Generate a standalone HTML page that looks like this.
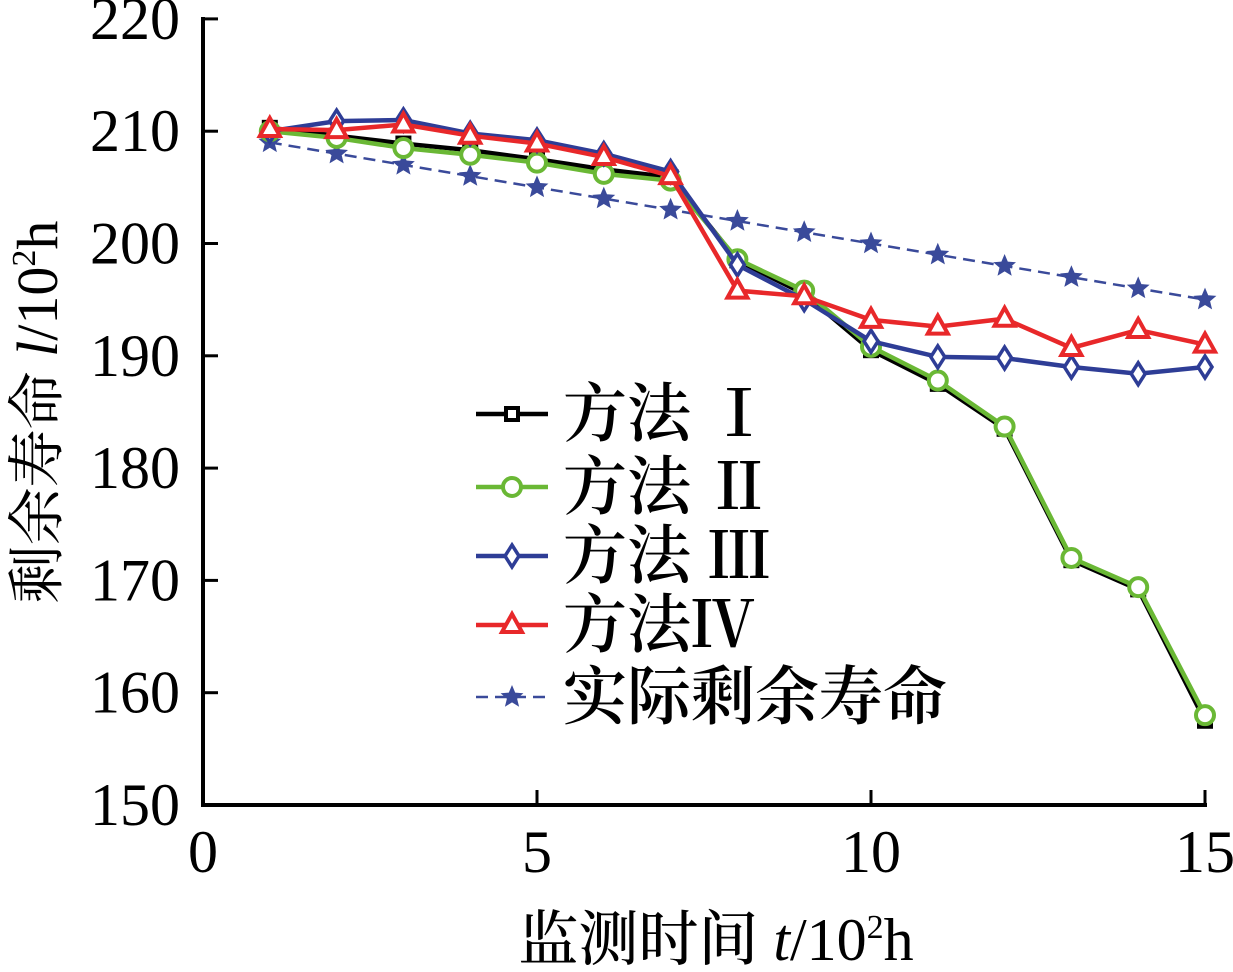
<!DOCTYPE html>
<html><head><meta charset="utf-8"><style>
html,body{margin:0;padding:0;background:#fff;}
svg text{font-family:"Liberation Serif","Noto Serif CJK SC",serif;}
</style></head><body>
<svg id="s" width="1233" height="967" viewBox="0 0 1233 967" xmlns="http://www.w3.org/2000/svg">
<g id="g"></g>
</svg>
<script>
const X=v=>203+v*66.8, Y=v=>805-(v-150)*11.23;
const g=document.getElementById('g');let h='';
h+=`<line x1="203" y1="17" x2="203" y2="805" stroke="#000" stroke-width="4"/>`;
h+=`<line x1="201" y1="805" x2="1207" y2="805" stroke="#000" stroke-width="4"/>`;
for(let v=150;v<=220;v+=10){const y=Y(v);if(v>150)h+=`<line x1="203" y1="${y}" x2="218" y2="${y}" stroke="#000" stroke-width="3"/>`;
h+=`<text x="180" y="${y+20}" font-size="60" text-anchor="end">${v}</text>`;}
for(let v=0;v<=15;v+=5){const x=X(v);if(v>0)h+=`<line x1="${x}" y1="805" x2="${x}" y2="790" stroke="#000" stroke-width="3"/>`;
h+=`<text x="${x}" y="872" font-size="60" text-anchor="middle">${v}</text>`;}
h+=`<text x="716" y="960" font-size="60" text-anchor="middle" font-weight="bold" style="font-weight:500">监测时间 <tspan font-style="italic">t</tspan>/10<tspan font-size="34" dy="-22">2</tspan><tspan dy="22">h</tspan></text>`;
h+=`<text transform="translate(57,412) rotate(-90)" font-size="58" text-anchor="middle">剩余寿命 <tspan font-style="italic">l</tspan>/10<tspan font-size="34" dy="-22">2</tspan><tspan dy="22">h</tspan></text>`;
const D={
k:[210.3,209.6,208.9,208.3,207.5,206.6,205.9,198.5,195.5,190.5,187.5,183.5,171.8,169.2,157.5],
gr:[210.0,209.4,208.5,207.9,207.2,206.2,205.6,198.6,195.8,190.8,187.8,183.7,172.0,169.4,158.0],
b:[210,210.9,211.0,209.8,209.2,208.0,206.4,198.1,195.0,191.3,189.9,189.8,189.0,188.4,189.0],
r:[210.2,210.1,210.6,209.6,208.9,207.7,206.0,195.8,195.3,193.2,192.6,193.3,190.7,192.3,191.0],
a:[209,208,207,206,205,204,203,202,201,200,199,198,197,196,195]};
function star(x,y,r,c){let p=[];for(let i=0;i<10;i++){const rr=i%2?r*0.45:r,an=-Math.PI/2+i*Math.PI/5;p.push((x+rr*Math.cos(an)).toFixed(1)+','+(y+rr*Math.sin(an)).toFixed(1));}return `<polygon points="${p.join(' ')}" fill="${c}"/>`;}
function mk(t,x,y){
if(t=='k')return `<rect x="${x-6}" y="${y-6}" width="12" height="12" fill="#fff" stroke="#000" stroke-width="4"/>`;
if(t=='gr')return `<circle cx="${x}" cy="${y}" r="9" fill="#fff" stroke="#6ab835" stroke-width="4"/>`;
if(t=='b')return `<polygon points="${x},${y-11} ${x+7},${y} ${x},${y+11} ${x-7},${y}" fill="#fff" stroke="#2e3d96" stroke-width="3.5"/>`;
if(t=='r')return `<polygon points="${x},${y-11} ${x+10},${y+7} ${x-10},${y+7}" fill="#fff" stroke="#e8282a" stroke-width="4"/>`;
return star(x,y,12,'#3a4a9a');}
const col={k:'#000',gr:'#6ab835',b:'#2e3d96',r:'#e8282a',a:'#3a4a9a'};
for(const t of ['a','k','gr','b','r']){const pts=D[t].map((v,i)=>X(i+1)+','+Y(v)).join(' ');
h+=`<polyline points="${pts}" fill="none" stroke="${col[t]}" stroke-width="${t=='a'?2.5:4.5}" ${t=='a'?'stroke-dasharray="12,7"':''}/>`;
D[t].forEach((v,i)=>h+=mk(t,X(i+1),Y(v)));}
const L=[['k','方法 Ⅰ',414],['gr','方法 Ⅱ',487],['b','方法 Ⅲ',556],['r','方法Ⅳ',625],['a','实际剩余寿命',697]];
for(const [t,s,y] of L){h+=`<line x1="476" y1="${y}" x2="548" y2="${y}" stroke="${col[t]}" stroke-width="${t=='a'?2.5:4.5}" ${t=='a'?'stroke-dasharray="12,7"':''}/>`;
h+=mk(t,512,y);h+=`<text x="563" y="${y+22}" font-size="64" style="font-weight:600">${s}</text>`;}
g.innerHTML=h;
</script>
</body></html>
